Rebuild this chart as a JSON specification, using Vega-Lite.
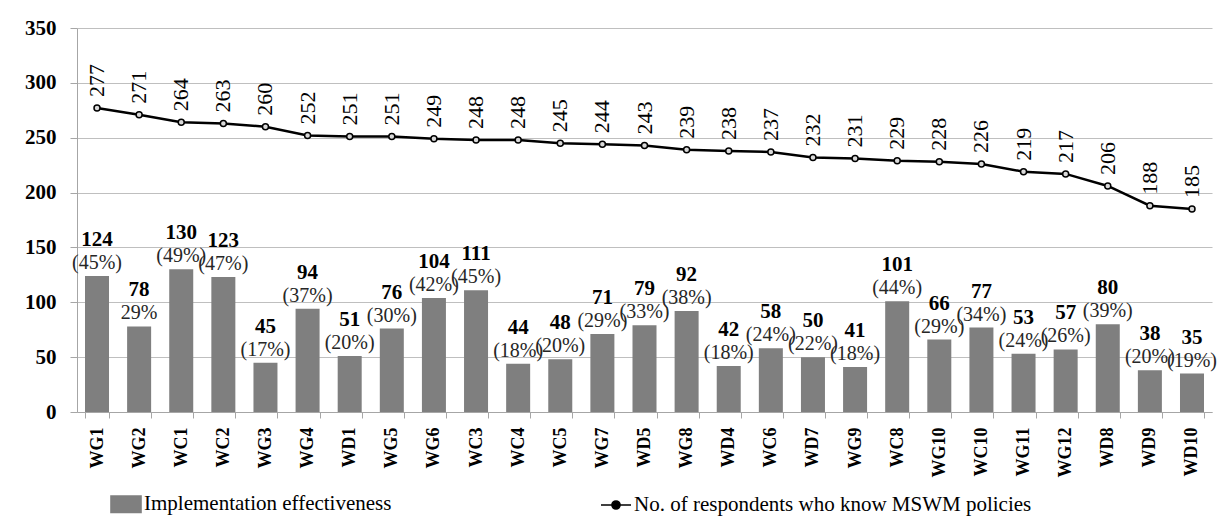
{
  "$schema": "https://vega.github.io/schema/vega-lite/v6.json",
  "width": 1135,
  "height": 384,
  "autosize": "none",
  "padding": {"left": 77, "top": 28, "right": 8, "bottom": 114},
  "background": "white",
  "config": {
    "view": {"stroke": null},
    "font": "Liberation Serif, Times New Roman, serif"
  },
  "data": {
    "values": [
      {"site": "WG1", "effect": 124, "pct": "(45%)", "know": 277},
      {"site": "WG2", "effect": 78, "pct": "29%", "know": 271},
      {"site": "WC1", "effect": 130, "pct": "(49%)", "know": 264},
      {"site": "WC2", "effect": 123, "pct": "(47%)", "know": 263},
      {"site": "WG3", "effect": 45, "pct": "(17%)", "know": 260},
      {"site": "WG4", "effect": 94, "pct": "(37%)", "know": 252},
      {"site": "WD1", "effect": 51, "pct": "(20%)", "know": 251},
      {"site": "WG5", "effect": 76, "pct": "(30%)", "know": 251},
      {"site": "WG6", "effect": 104, "pct": "(42%)", "know": 249},
      {"site": "WC3", "effect": 111, "pct": "(45%)", "know": 248},
      {"site": "WC4", "effect": 44, "pct": "(18%)", "know": 248},
      {"site": "WC5", "effect": 48, "pct": "(20%)", "know": 245},
      {"site": "WG7", "effect": 71, "pct": "(29%)", "know": 244},
      {"site": "WD5", "effect": 79, "pct": "(33%)", "know": 243},
      {"site": "WG8", "effect": 92, "pct": "(38%)", "know": 239},
      {"site": "WD4", "effect": 42, "pct": "(18%)", "know": 238},
      {"site": "WC6", "effect": 58, "pct": "(24%)", "know": 237},
      {"site": "WD7", "effect": 50, "pct": "(22%)", "know": 232},
      {"site": "WG9", "effect": 41, "pct": "(18%)", "know": 231},
      {"site": "WC8", "effect": 101, "pct": "(44%)", "know": 229},
      {"site": "WG10", "effect": 66, "pct": "(29%)", "know": 228},
      {"site": "WC10", "effect": 77, "pct": "(34%)", "know": 226},
      {"site": "WG11", "effect": 53, "pct": "(24%)", "know": 219},
      {"site": "WG12", "effect": 57, "pct": "(26%)", "know": 217},
      {"site": "WD8", "effect": 80, "pct": "(39%)", "know": 206},
      {"site": "WD9", "effect": 38, "pct": "(20%)", "know": 188},
      {"site": "WD10", "effect": 35, "pct": "(19%)", "know": 185}
    ]
  },
  "encoding": {
    "x": {
      "field": "site",
      "type": "nominal",
      "sort": null,
      "scale": {"paddingInner": 0.43, "paddingOuter": 0.19},
      "axis": {
        "title": null,
        "labelAngle": 270,
        "labelAlign": "right",
        "labelBaseline": "middle",
        "labelFont": "Liberation Serif, Times New Roman, serif",
        "labelFontSize": 18,
        "labelFontWeight": "bold",
        "labelColor": "black",
        "labelPadding": 9,
        "tickBand": "extent",
        "tickSize": 6,
        "tickColor": "#a6a6a6",
        "domainColor": "#a6a6a6",
        "grid": false
      }
    }
  },
  "layer": [
    {
      "mark": {"type": "bar", "color": "#7f7f7f"},
      "encoding": {
        "y": {
          "field": "effect",
          "type": "quantitative",
          "scale": {"domain": [0, 350], "nice": false},
          "axis": {
            "title": null,
            "values": [0, 50, 100, 150, 200, 250, 300, 350],
            "grid": true,
            "gridColor": "#bfbfbf",
            "domainColor": "#a6a6a6",
            "tickColor": "#a6a6a6",
            "tickSize": 7,
            "labelPadding": 14,
            "labelFont": "Liberation Serif, Times New Roman, serif",
            "labelFontSize": 21,
            "labelFontWeight": "bold",
            "labelColor": "black"
          }
        },
        "color": {
          "datum": "Implementation effectiveness",
          "type": "nominal",
          "scale": {
            "domain": ["Implementation effectiveness", "No. of respondents who know MSWM policies"],
            "range": ["#7f7f7f", "black"]
          },
          "legend": {
            "title": null,
            "orient": "none",
            "direction": "horizontal",
            "legendX": 33,
            "legendY": 460,
            "padding": 0,
            "columnPadding": 205,
            "symbolSize": 900,
            "labelOffset": 2,
            "labelLimit": 800,
            "labelFont": "Liberation Serif, Times New Roman, serif",
            "labelFontSize": 21,
            "labelColor": "black",
            "encode": {
              "symbols": {
                "update": {
                  "shape": {"signal": "datum.value === 'Implementation effectiveness' ? 'M-1,-0.55H1V0.55H-1Z' : 'M-1,0H-0.27M0.27,0H1M0.27,0A0.27,0.27,0,1,1,-0.27,0A0.27,0.27,0,1,1,0.27,0'"},
                  "fill": {"signal": "datum.value === 'Implementation effectiveness' ? '#7f7f7f' : 'white'"},
                  "stroke": {"signal": "datum.value === 'Implementation effectiveness' ? 'transparent' : 'black'"},
                  "strokeWidth": {"value": 1.6},
                  "opacity": {"value": 1}
                }
              }
            }
          }
        }
      }
    },
    {
      "mark": {"type": "line", "strokeWidth": 2.5},
      "encoding": {
        "y": {"field": "know", "type": "quantitative"},
        "color": {
          "datum": "No. of respondents who know MSWM policies",
          "type": "nominal"
        }
      }
    },
    {
      "mark": {"type": "point", "filled": true, "fill": "#d9d9d9", "stroke": "black", "strokeWidth": 1.5, "size": 36, "opacity": 1},
      "encoding": {
        "y": {"field": "know", "type": "quantitative"}
      }
    },
    {
      "mark": {"type": "text", "angle": 270, "align": "left", "baseline": "middle", "dx": 11, "font": "Liberation Serif, Times New Roman, serif", "fontSize": 22, "color": "black"},
      "encoding": {
        "y": {"field": "know", "type": "quantitative"},
        "text": {"field": "know", "type": "quantitative"}
      }
    },
    {
      "mark": {"type": "text", "align": "center", "baseline": "alphabetic", "dy": -7, "font": "Liberation Serif, Times New Roman, serif", "fontSize": 20, "color": "#262626"},
      "encoding": {
        "y": {"field": "effect", "type": "quantitative"},
        "text": {"field": "pct", "type": "nominal"}
      }
    },
    {
      "mark": {"type": "text", "align": "center", "baseline": "alphabetic", "dy": -30, "font": "Liberation Serif, Times New Roman, serif", "fontSize": 21, "fontWeight": "bold", "color": "black"},
      "encoding": {
        "y": {"field": "effect", "type": "quantitative"},
        "text": {"field": "effect", "type": "quantitative"}
      }
    }
  ]
}
